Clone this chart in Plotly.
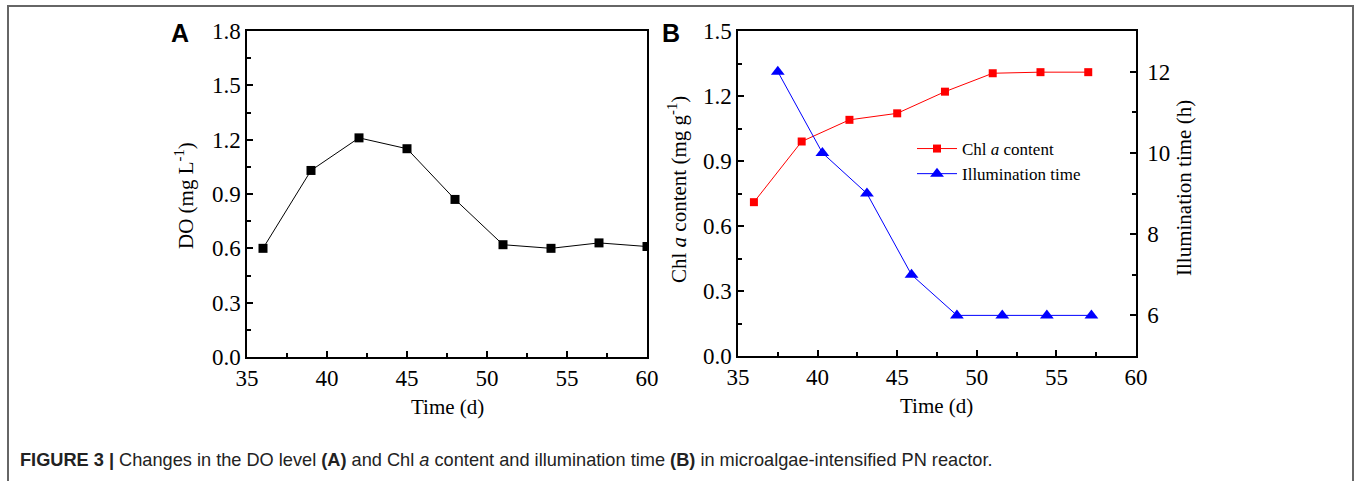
import plotly.graph_objects as go

# ---- data ----
time_a = [36, 39, 42, 45, 48, 51, 54, 57, 60]
do_a = [0.60, 1.03, 1.21, 1.15, 0.87, 0.62, 0.60, 0.63, 0.61]

time_chl = [36, 39, 42, 45, 48, 51, 54, 57]
chl_a = [0.71, 0.99, 1.09, 1.12, 1.22, 1.305, 1.31, 1.31]

time_ill = [37.5, 40.3, 43.1, 45.9, 48.75, 51.6, 54.4, 57.2]
illum_h = [12, 10, 9, 7, 6, 6, 6, 6]

x_ticks = [35, 40, 45, 50, 55, 60]
ya_ticks = [0.0, 0.3, 0.6, 0.9, 1.2, 1.5, 1.8]
yb_ticks = [0.0, 0.3, 0.6, 0.9, 1.2, 1.5]
y2_ticks = [6, 8, 10, 12]

W, H = 1356, 481
serif = "Liberation Serif"
sans = "Liberation Sans"

def px(x):
    return x / W

def py(y):
    return 1 - y / H

fig = go.Figure()

fig.add_trace(go.Scatter(x=time_a, y=do_a, mode="lines+markers",
                         line=dict(color="black", width=1),
                         marker=dict(symbol="square", size=9, color="black"),
                         xaxis="x", yaxis="y", showlegend=False))

fig.add_trace(go.Scatter(x=time_chl, y=chl_a, mode="lines+markers",
                         name="Chl <i>a</i> content",
                         line=dict(color="#ff0000", width=1),
                         marker=dict(symbol="square", size=8, color="#ff0000"),
                         xaxis="x2", yaxis="y2"))

fig.add_trace(go.Scatter(x=time_ill, y=illum_h, mode="lines+markers",
                         name="Illumination time",
                         line=dict(color="#0000ff", width=1),
                         marker=dict(symbol="triangle-up", size=12, color="#0000ff"),
                         xaxis="x2", yaxis="y3"))

axis_common = dict(showline=True, linecolor="black", linewidth=1.5,
                   ticks="inside", ticklen=6, tickwidth=1.5, tickcolor="black",
                   showgrid=False, zeroline=False, automargin=False,
                   tickfont=dict(family=serif, size=23, color="black"))

fig.update_layout(
    width=W, height=H,
    margin=dict(l=0, r=0, t=0, b=0, autoexpand=False),
    paper_bgcolor="white", plot_bgcolor="white",
    xaxis=dict(domain=[px(247), px(647)], anchor="y", range=[35, 60],
               tickvals=x_ticks, mirror=True,
               minor=dict(ticks="inside", ticklen=4, tickwidth=1.5, dtick=2.5, tick0=35, tickcolor="black"),
               **axis_common),
    yaxis=dict(domain=[py(357), py(31)], anchor="x", range=[0, 1.8],
               tickvals=ya_ticks, tickformat=".1f", mirror=True,
               minor=dict(ticks="inside", ticklen=4, tickwidth=1.5, dtick=0.15, tick0=0, tickcolor="black"),
               **axis_common),
    xaxis2=dict(domain=[px(738), px(1136)], anchor="y2", range=[35, 60],
                tickvals=x_ticks, mirror=True,
                minor=dict(ticks="inside", ticklen=4, tickwidth=1.5, dtick=2.5, tick0=35, tickcolor="black"),
                **axis_common),
    yaxis2=dict(domain=[py(356), py(31)], anchor="x2", range=[0, 1.5],
                tickvals=yb_ticks, tickformat=".1f", mirror=True,
                minor=dict(ticks="inside", ticklen=4, tickwidth=1.5, dtick=0.15, tick0=0, tickcolor="black"),
                **axis_common),
    yaxis3=dict(overlaying="y2", anchor="x2", side="right", range=[5, 13],
                tickvals=y2_ticks, ticklabelstandoff=5,
                minor=dict(ticks="inside", ticklen=4, tickwidth=1.5, dtick=1, tick0=5, tickcolor="black"),
                **axis_common),
    legend=dict(x=px(912), y=py(131), xanchor="left", yanchor="top",
                bgcolor="rgba(0,0,0,0)", borderwidth=0,
                font=dict(family=serif, size=17, color="black"),
                tracegroupgap=0, itemwidth=40),
)

annotations = [
    dict(text="<b>A</b>", x=px(180), y=py(33), font=dict(family=sans, size=25, color="black")),
    dict(text="<b>B</b>", x=px(671), y=py(33), font=dict(family=sans, size=25, color="black")),
    dict(text="Time (d)", x=px(447), y=py(407), font=dict(family=serif, size=21, color="black")),
    dict(text="Time (d)", x=px(937), y=py(406), font=dict(family=serif, size=21, color="black")),
    dict(text="DO (mg L<sup>-1</sup>)", x=px(184), y=py(196), textangle=-90,
         font=dict(family=serif, size=21, color="black")),
    dict(text="Chl <i>a</i> content (mg g<sup>-1</sup>)", x=px(677), y=py(190), textangle=-90,
         font=dict(family=serif, size=21, color="black")),
    dict(text="Illumination time (h)", x=px(1184), y=py(188), textangle=-90,
         font=dict(family=serif, size=21, color="black")),
    dict(text="<b>FIGURE 3 |</b> Changes in the DO level <b>(A)</b> and Chl <i>a</i> content and illumination time <b>(B)</b> in microalgae-intensified PN reactor.",
         x=px(18), y=py(460), xanchor="left", font=dict(family=sans, size=18.2, color="#222222")),
]
for a in annotations:
    a.setdefault("xanchor", "center")
    a.update(xref="paper", yref="paper", showarrow=False, yanchor="middle")
fig.update_layout(annotations=annotations)

# outer frame (open at the bottom)
fig.add_shape(type="path", xref="paper", yref="paper",
              path=f"M {px(8)} {py(490)} L {px(8)} {py(6)} L {px(1353)} {py(6)} L {px(1353)} {py(490)}",
              line=dict(color="#666666", width=2))

fig.write_html("out.html", config={"displayModeBar": False},
               post_script="document.body.style.margin='0';document.body.style.overflow='hidden';")
